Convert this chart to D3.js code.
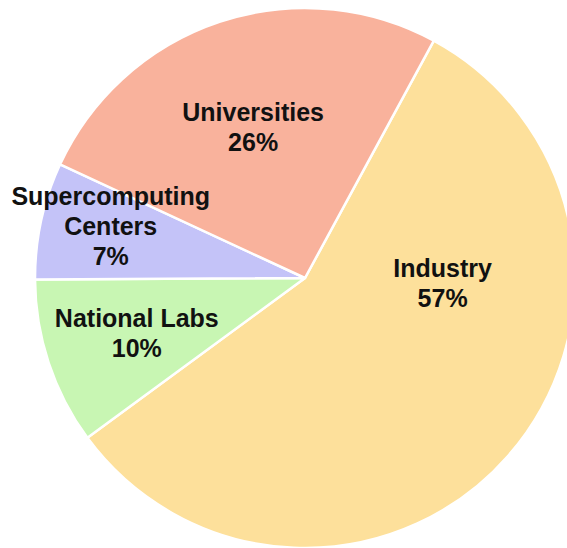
<!DOCTYPE html>
<html>
<head>
<meta charset="utf-8">
<script src="https://cdn.jsdelivr.net/npm/d3@7"></script>
<style>
  html, body { margin: 0; padding: 0; background: #fff; overflow: hidden; }
  svg { display: block; }
</style>
</head>
<body>
<div id="chart"></div>
<script>
// data, clockwise from the top-right edge
const categories = ["Industry", "National Labs", "Supercomputing Centers", "Universities"];
const labelLines = [["Industry"], ["National Labs"], ["Supercomputing", "Centers"], ["Universities"]];
const shares = [57, 10, 7, 26];
const colors = ["#fde09b", "#c8f6b3", "#c4c3f8", "#f9b29c"];

// label placement: angle (deg, from 12 o'clock) and radius fraction
const labelAngle = [92, 252, 285, 341];
const labelRadius = [0.51, 0.655, 0.745, 0.59];

const width = 567, height = 548;
const cx = 305, cy = 278, radius = 270;
const startAngle = 28.5 * Math.PI / 180;

const svg = d3.select("#chart")
  .append("svg")
    .attr("width", width)
    .attr("height", height);

const g = svg.append("g").attr("transform", `translate(${cx},${cy})`);

const pie = d3.pie()
  .sort(null)
  .value(d => d)
  .startAngle(startAngle)
  .endAngle(startAngle + 2 * Math.PI);

const arc = d3.arc().innerRadius(0).outerRadius(radius);
const arcs = pie(shares);

g.selectAll("path")
  .data(arcs)
  .join("path")
    .attr("d", arc)
    .attr("fill", (d, i) => colors[i])
    .attr("stroke", "#fff")
    .attr("stroke-width", 2.5)
    .attr("stroke-linejoin", "round");

const lineH = 30;
const labels = g.selectAll("text.lbl")
  .data(arcs)
  .join("text")
    .attr("class", "lbl")
    .attr("text-anchor", "middle")
    .attr("font-family", "'Liberation Sans', Arial, Helvetica, sans-serif")
    .attr("font-weight", "bold")
    .attr("font-size", 25)
    .attr("fill", "#111")
    .attr("transform", (d, i) => {
      const a = labelAngle[i] * Math.PI / 180, r = labelRadius[i] * radius;
      return `translate(${Math.sin(a) * r},${-Math.cos(a) * r})`;
    });

labels.each(function(d, i) {
  const lines = labelLines[i].concat([shares[i] + "%"]);
  const t = d3.select(this);
  const y0 = -(lines.length - 1) * lineH / 2;
  lines.forEach((s, k) => {
    t.append("tspan")
      .attr("x", 0)
      .attr("y", y0 + k * lineH)
      .attr("dy", "0.36em")
      .text(s);
  });
});
</script>
</body>
</html>
